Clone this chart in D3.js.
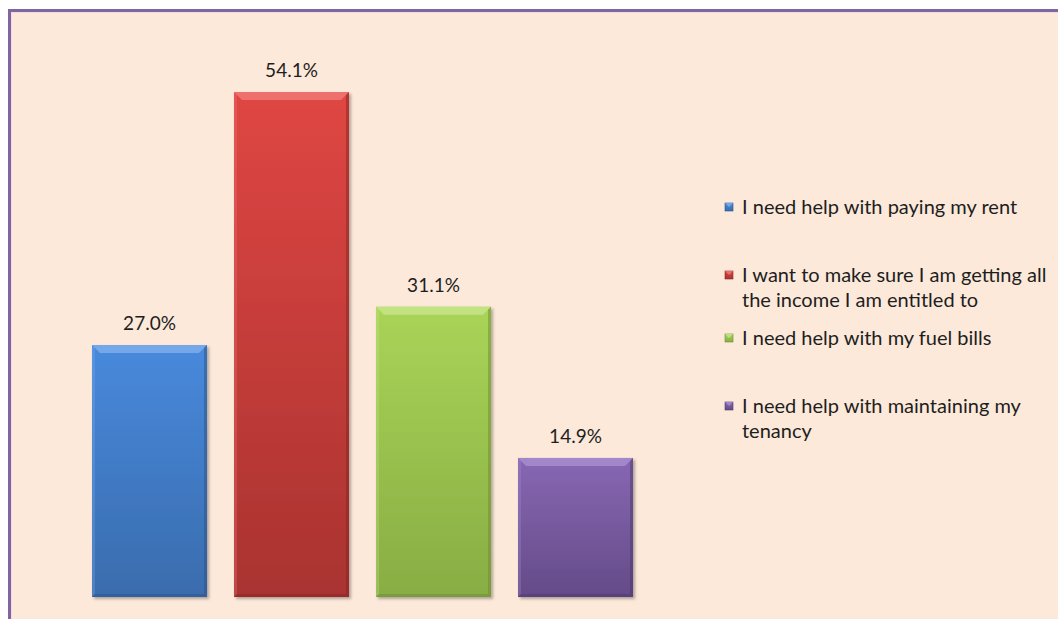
<!DOCTYPE html>
<html>
<head>
<meta charset="utf-8">
<script src="https://cdn.jsdelivr.net/npm/d3@7"></script>
<style>
  body { margin: 0; background: #fff; }
  svg { display: block; font-family: Lato, "Open Sans", sans-serif; }
</style>
</head>
<body>
<div id="chart"></div>
<script>
const categories = [
  "I need help with paying my rent",
  "I want to make sure I am getting all the income I am entitled to",
  "I need help with my fuel bills",
  "I need help with maintaining my tenancy"
];
const values = [27.0, 54.1, 31.1, 14.9];
const legendLines = [
  ["I need help with paying my rent"],
  ["I want to make sure I am getting all", "the income I am entitled to"],
  ["I need help with my fuel bills"],
  ["I need help with maintaining my", "tenancy"]
];

const colors = [
  { top: "#4889dc", bot: "#3a6cad", light: "#7fb0ec", dark: "#2b5487" },
  { top: "#df4643", bot: "#a93330", light: "#f07a77", dark: "#862624" },
  { top: "#a9d457", bot: "#88ad44", light: "#c8e68d", dark: "#6d8c35" },
  { top: "#8767b3", bot: "#654b88", light: "#a98fd0", dark: "#4e3a6b" }
];

const width = 1058, height = 619;
const svg = d3.select("#chart").append("svg")
  .attr("width", width).attr("height", height);

// background frame
svg.append("rect").attr("x", 0).attr("y", 0).attr("width", width).attr("height", height).attr("fill", "#ffffff");
svg.append("rect").attr("x", 9.5).attr("y", 10.5).attr("width", width + 20).attr("height", height + 20)
  .attr("fill", "#fce9da").attr("stroke", "#8066a0").attr("stroke-width", 3);
svg.append("rect").attr("x", 11.5).attr("y", 12.5).attr("width", width + 20).attr("height", height + 20)
  .attr("fill", "none").attr("stroke", "#f2dbe0").attr("stroke-width", 1);

const defs = svg.append("defs");
colors.forEach((c, i) => {
  const g = defs.append("linearGradient").attr("id", "grad" + i)
    .attr("x1", 0).attr("y1", 0).attr("x2", 0).attr("y2", 1);
  g.append("stop").attr("offset", "0%").attr("stop-color", c.top);
  g.append("stop").attr("offset", "100%").attr("stop-color", c.bot);
});
const f = defs.append("filter").attr("id", "shadow").attr("x", "-10%").attr("y", "-10%").attr("width", "130%").attr("height", "130%");
f.append("feDropShadow").attr("dx", 2).attr("dy", 2).attr("stdDeviation", 1.5).attr("flood-color", "#000").attr("flood-opacity", 0.3);

const x = d3.scaleBand().domain(categories).range([78.5, 646.5]).paddingInner(0.19).paddingOuter(0.095);
const y = d3.scaleLinear().domain([0, 60]).range([597, 37]);

const bars = svg.selectAll(".bar").data(values).enter().append("g").attr("class", "bar");
const bev = 8;

bars.append("rect")
  .attr("x", (d, i) => x(categories[i]))
  .attr("y", d => y(d))
  .attr("width", x.bandwidth())
  .attr("height", d => y(0) - y(d))
  .attr("fill", (d, i) => `url(#grad${i})`)
  .attr("filter", "url(#shadow)");

// bevel edges
bars.each(function(d, i) {
  const g = d3.select(this);
  const x0 = x(categories[i]), x1 = x0 + x.bandwidth();
  const y0 = y(d), y1 = y(0);
  const c = colors[i];
  g.append("polygon")
    .attr("points", [[x0, y0], [x1, y0], [x1 - bev, y0 + bev], [x0 + bev, y0 + bev]].join(" "))
    .attr("fill", c.light).attr("opacity", 0.8);
  g.append("polygon")
    .attr("points", [[x0, y0], [x0 + 3, y0 + 3], [x0 + 3, y1 - 3], [x0, y1]].join(" "))
    .attr("fill", c.light).attr("opacity", 0.3);
  g.append("polygon")
    .attr("points", [[x1, y0], [x1 - 3, y0 + 3], [x1 - 3, y1 - 3], [x1, y1]].join(" "))
    .attr("fill", c.dark).attr("opacity", 0.5);
  g.append("polygon")
    .attr("points", [[x0, y1], [x0 + 3, y1 - 3], [x1 - 3, y1 - 3], [x1, y1]].join(" "))
    .attr("fill", c.dark).attr("opacity", 0.5);
});

bars.append("text")
  .attr("x", (d, i) => x(categories[i]) + x.bandwidth() / 2)
  .attr("y", d => y(d) - 15)
  .attr("text-anchor", "middle")
  .attr("font-size", 19)
  .attr("fill", "#1e1e1e")
  .text(d => d.toFixed(1) + "%");

// legend
const legendY = [207, 275, 338, 406];
const legend = svg.selectAll(".legend").data(legendLines).enter().append("g").attr("class", "legend");
legend.append("rect")
  .attr("x", 725).attr("y", (d, i) => legendY[i] - 4)
  .attr("width", 8).attr("height", 8)
  .attr("fill", (d, i) => `url(#grad${i})`)
  .attr("stroke", (d, i) => colors[i].dark).attr("stroke-width", 0.6);
legend.append("polygon")
  .attr("points", (d, i) => [[725, legendY[i] - 4], [733, legendY[i] - 4], [729, legendY[i]]].join(" "))
  .attr("fill", (d, i) => colors[i].light).attr("opacity", 0.8);
legend.append("text")
  .attr("x", 742)
  .attr("y", (d, i) => legendY[i] + 7)
  .attr("font-size", 20)
  .attr("fill", "#1e1e1e")
  .selectAll("tspan").data(d => d).enter().append("tspan")
  .attr("x", 742)
  .attr("dy", (d, j) => j === 0 ? 0 : 25)
  .text(d => d);
</script>
</body>
</html>
